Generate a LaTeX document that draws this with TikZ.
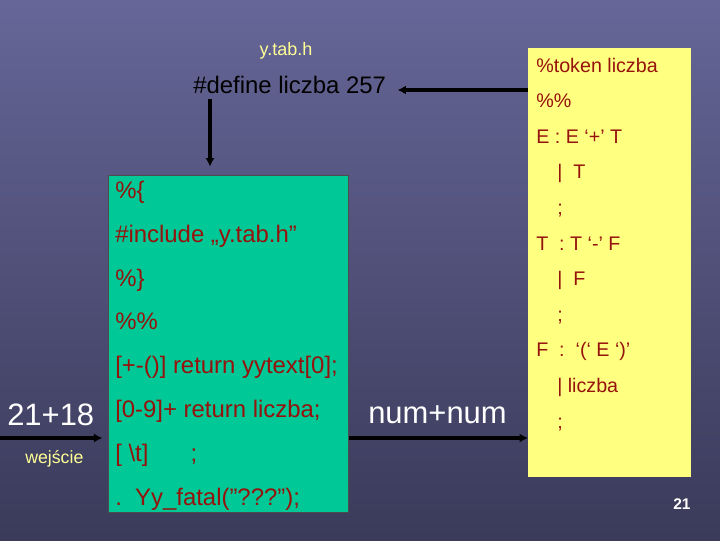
\documentclass[tikz,border=0pt]{standalone}
\usepackage{fontspec}
\setmainfont{Liberation Sans}
\usetikzlibrary{positioning, arrows.meta}
\definecolor{slide}{RGB}{102,102,152}
\definecolor{slidedark}{RGB}{58,58,90}
\definecolor{lexgreen}{RGB}{0,200,150}
\definecolor{yaccyellow}{RGB}{255,255,128}
\definecolor{codered}{RGB}{150,18,12}
\definecolor{labelyellow}{RGB}{255,255,150}

\begin{document}
\begin{tikzpicture}[x=0.025cm, y=-0.025cm,
	lexcode/.style={anchor=base west, inner sep=0, text=codered, font=\fontsize{17}{17}\selectfont},
	yacccode/.style={anchor=base west, inner sep=0, text=codered, font=\fontsize{14}{14}\selectfont},
	bigtext/.style={anchor=base west, inner sep=0, text=white, font=\fontsize{22}{22}\selectfont},
	arr/.style={-{Latex[length=6pt, width=6.5pt]}, line width=2.2pt, black}]
	\useasboundingbox (0,0) rectangle (720,540);
	\shade[top color=slide, bottom color=slidedark] (0,0) rectangle (720,540);

	% boxes
	\node (lex)  [anchor=north west, draw=black!70, fill=lexgreen, minimum width=6cm, minimum height=8.425cm] at (108,175) {};
	\node (yacc) [anchor=north west, fill=yaccyellow, minimum width=4.075cm, minimum height=10.725cm] at (528,48) {};

	% header
	\node (tabh) [anchor=base, inner sep=0, text=labelyellow, font=\fontsize{12.8}{12.8}\selectfont] at (286,55) {y.tab.h};
	\node (hdr)  [anchor=base west, inner sep=0, font=\fontsize{17}{17}\selectfont] at (193,93) {\#define liczba 257};

	% lex source
	\node (l1) [lexcode] at (115,198) {\%\{};
	\node (l2) [lexcode] at (115,242) {\#include „y.tab.h”};
	\node (l3) [lexcode] at (115,286) {\%\}};
	\node (l4) [lexcode] at (115,329) {\%\%};
	\node (l5) [lexcode] at (115,373) {[+-()] return yytext[0];};
	\node (l6) [lexcode] at (115,417) {[0-9]+ return liczba;};
	\node (l7) [lexcode] at (115,461) {[ \textbackslash t]\hspace{30pt};};
	\node (l8) [lexcode] at (115,505) {.\ \ Yy\_fatal(”???”);};

	% yacc source
	\node (y1)  [yacccode] at (536,72)    {\%token liczba};
	\node (y2)  [yacccode] at (536,107.6) {\%\%};
	\node (y3)  [yacccode] at (536,143.2) {E : E ‘+’ T};
	\node (y4)  [yacccode] at (557,178.8) {|\ \ T};
	\node (y5)  [yacccode] at (557,214.4) {;};
	\node (y6)  [yacccode] at (536,250)   {T\ \ : T ‘-’ F};
	\node (y7)  [yacccode] at (557,285.6) {|\ \ F};
	\node (y8)  [yacccode] at (557,321.2) {;};
	\node (y9)  [yacccode] at (536,356.8) {F\ \ :\ \ ‘(‘ E ‘)’};
	\node (y10) [yacccode] at (557,392.4) {| liczba};
	\node (y11) [yacccode] at (557,428)   {;};

	% input and output
	\node (expr) [bigtext] at (7,425)   {21+18};
	\node (wej)  [anchor=base west, inner sep=0, text=labelyellow, font=\fontsize{12.6}{12.6}\selectfont] at (25,463) {wejście};
	\node (tok)  [bigtext] at (368,423) {num+num};
	\node (page) [anchor=base west, inner sep=0, text=white, font=\bfseries\fontsize{11}{11}\selectfont] at (673,509) {21};

	\coordinate (in)  at (0,438);
	\coordinate (top) at (210,99);

	\draw[arr] (yacc.west |- 0,90) -- ([xshift=8pt]hdr.east |- 0,90);
	\draw[arr] (top) -- ([yshift=6pt]lex.north -| top);
	\draw[arr] (in) -- ([xshift=-4pt]lex.west |- in);
	\draw[arr] (lex.east |- in) -- (yacc.west |- in);
\end{tikzpicture}
\end{document}
